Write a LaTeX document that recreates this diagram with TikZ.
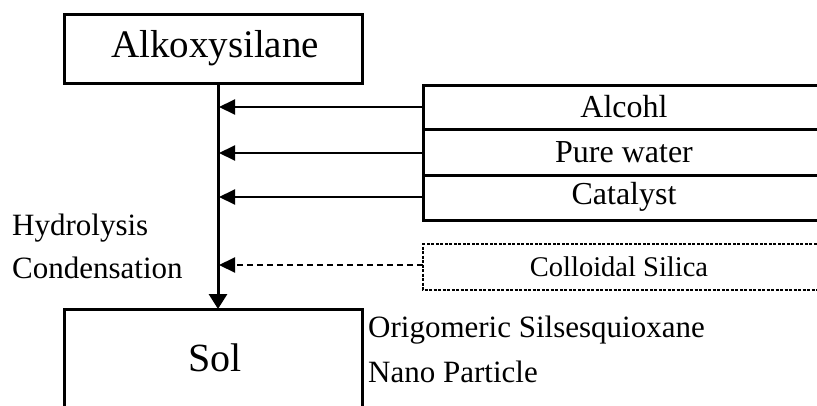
\documentclass[tikz,border=0pt]{standalone}
\usepackage{fontspec}
\setmainfont{Liberation Serif}
\usetikzlibrary{arrows.meta}
\begin{document}
\begin{tikzpicture}[x=1pt,y=-1pt,
  boxline/.style={line width=3pt},
  feed/.style={line width=2pt,-{Triangle[length=16pt,width=15pt]}},
  lbl/.style={font=\fontsize{32}{36}\selectfont,inner sep=0pt},
  plain/.style={font=\fontsize{31}{36}\selectfont,inner sep=0pt,anchor=base west}]
\useasboundingbox (0,0) rectangle (817,405);
% Alkoxysilane
\draw[boxline] (64,14) rectangle (362,83);
\node[inner sep=0pt,font=\fontsize{39}{44}\selectfont] (alk) at (215,48) {Alkoxysilane};
\coordinate (alkb) at (218,83);
% Sol
\draw[boxline] (64,309) rectangle (362,420);
\node[inner sep=0pt,font=\fontsize{40}{44}\selectfont] (sol) at (215,358) {Sol};
\coordinate (solt) at (218,309);
% main vertical arrow
\draw[line width=3pt,-{Triangle[length=15pt,width=18pt]}] (alkb) -- (solt);
% stacked boxes
\draw[boxline] (830,85) -- (423,85) -- (423,220) -- (830,220);
\draw[boxline] (423,129) -- (830,129);
\draw[boxline] (423,175) -- (830,175);
\node[lbl] (alc) at (624,107) {Alcohl};
\node[lbl] (pw) at (624,152) {Pure water};
\node[lbl] (cat) at (624,197) {Catalyst};
% dashed box
\draw[line width=1.8pt,dash pattern=on 3pt off 1.5pt,black] (830,244) -- (423,244) -- (423,290) -- (830,290);
\node[inner sep=0pt,font=\fontsize{28.5}{32}\selectfont] (col) at (619,267) {Colloidal Silica};
% arrows
\coordinate (a1) at (423,107); \coordinate (t1) at (219,107);
\coordinate (a2) at (423,153); \coordinate (t2) at (219,153);
\coordinate (a3) at (423,197); \coordinate (t3) at (219,197);
\coordinate (a4) at (423,265); \coordinate (t4) at (219,265);
\draw[feed] (a1) -- (t1);
\draw[feed] (a2) -- (t2);
\draw[feed] (a3) -- (t3);
\draw[feed,dash pattern=on 6pt off 4pt] (a4) -- (t4);
% side texts
\node[plain] (hyd) at (12,235) {Hydrolysis};
\node[plain] (con) at (12,278) {Condensation};
\node[plain] (ori) at (368,337) {Origomeric Silsesquioxane};
\node[plain] (nano) at (368,382) {Nano Particle};
\end{tikzpicture}
\end{document}
